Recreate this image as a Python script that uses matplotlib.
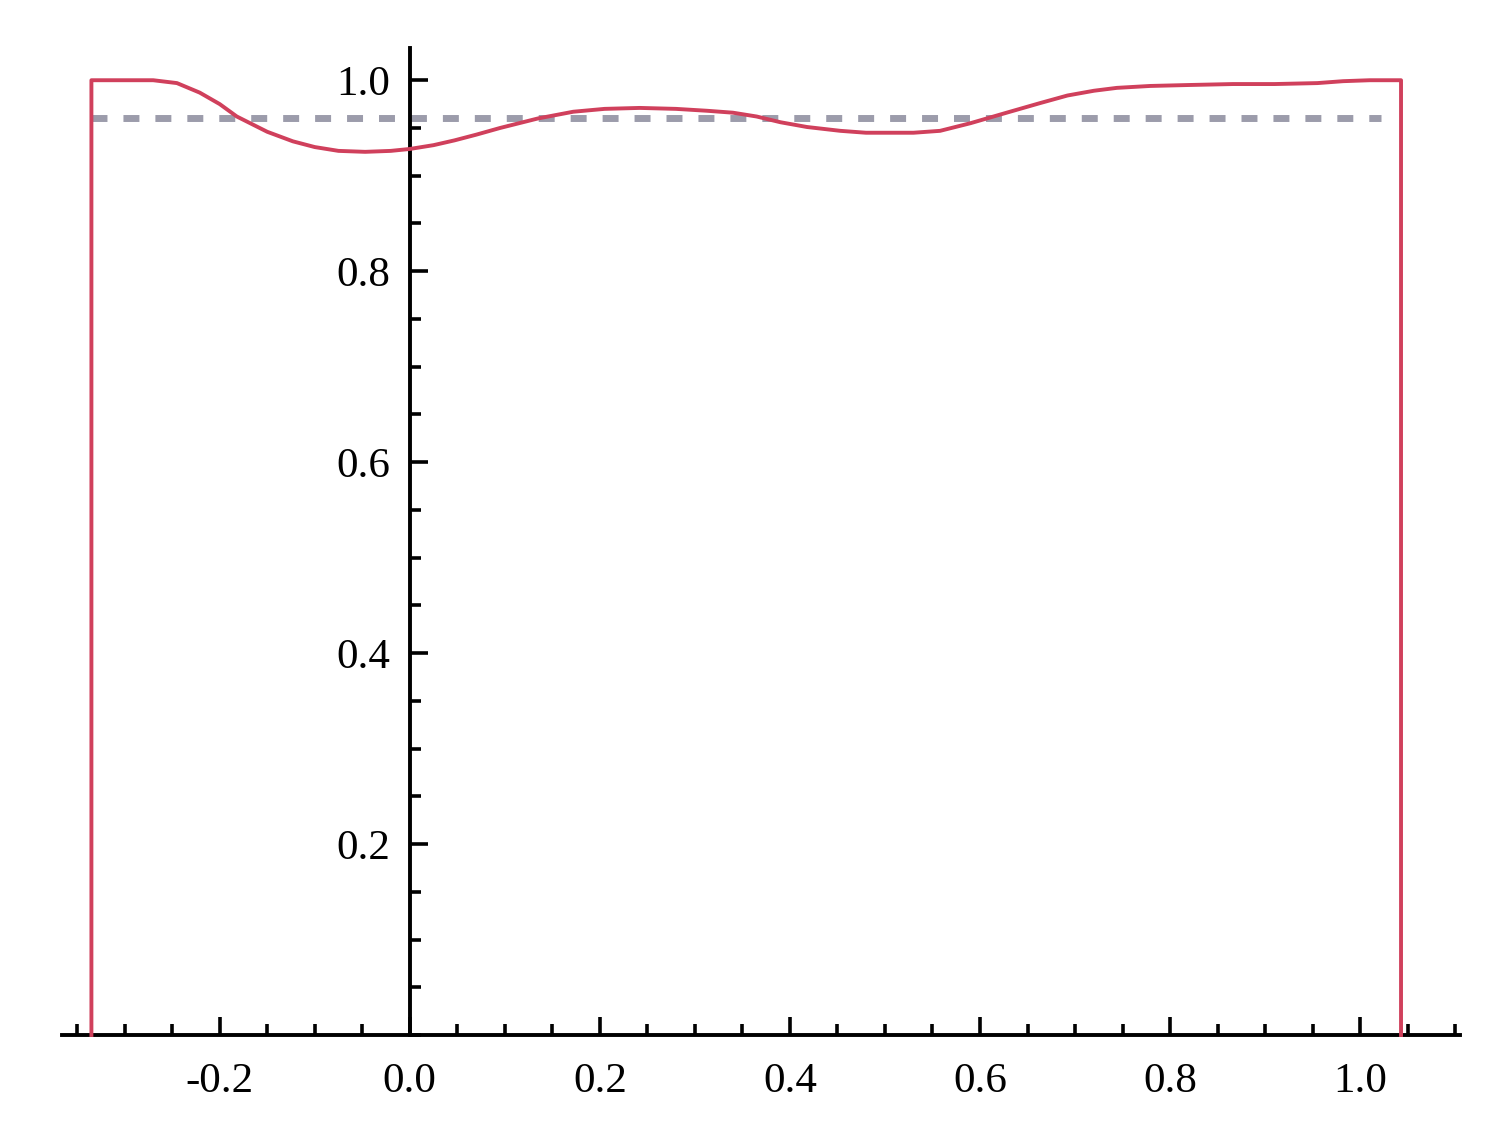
import numpy as np
import matplotlib
matplotlib.use("Agg")
import matplotlib.pyplot as plt
from matplotlib.ticker import MultipleLocator, FixedLocator, FormatStrFormatter

plt.rcParams["axes.unicode_minus"] = False
plt.rcParams["font.family"] = ["Liberation Serif", "DejaVu Serif"]

# red curve, including the two vertical drops to 0
curve_x = [-0.335, -0.335, -0.30, -0.270, -0.245, -0.221, -0.200, -0.182, -0.150,
           -0.123, -0.100, -0.075, -0.047, -0.020, 0.0, 0.025, 0.047, 0.070, 0.095,
           0.135, 0.172, 0.205, 0.242, 0.280, 0.313, 0.340, 0.365, 0.390, 0.418,
           0.453, 0.480, 0.505, 0.530, 0.558, 0.590, 0.628, 0.663, 0.692, 0.720,
           0.744, 0.779, 0.820, 0.866, 0.910, 0.955, 0.982, 1.010, 1.043, 1.043]
curve_y = [0.0, 1.0, 1.0, 1.0, 0.997, 0.987, 0.975, 0.962, 0.946,
           0.936, 0.930, 0.926, 0.925, 0.926, 0.928, 0.932, 0.937, 0.943, 0.950,
           0.960, 0.967, 0.970, 0.971, 0.970, 0.968, 0.966, 0.962, 0.956, 0.951,
           0.947, 0.945, 0.945, 0.945, 0.947, 0.955, 0.966, 0.976, 0.984, 0.989,
           0.992, 0.994, 0.995, 0.996, 0.996, 0.997, 0.999, 1.0, 1.0, 0.0]

# grey dashed reference level
dash_x = [-0.335, 1.022]
dash_level = 0.960

x_major = [-0.2, 0.0, 0.2, 0.4, 0.6, 0.8, 1.0]
y_major = [0.2, 0.4, 0.6, 0.8, 1.0]

fig = plt.figure(figsize=(15, 11.4), dpi=100)
ax = fig.add_axes([0.0413, 0.0921, 0.932, 0.866])

ax.plot(dash_x, [dash_level, dash_level], color="#9c9cab", linewidth=5,
        linestyle=(0, (2.3, 2.3)), solid_capstyle="butt", zorder=2)
ax.plot(curve_x, curve_y, color="#d0405c", linewidth=2.8, zorder=3, clip_on=False)

ax.set_xlim(-0.366, 1.105)
ax.set_ylim(0, 1.034)

for s in ["top", "right"]:
    ax.spines[s].set_visible(False)
ax.spines["left"].set_position(("data", 0))
ax.spines["bottom"].set_position(("data", 0))
ax.spines["left"].set_linewidth(2.8)
ax.spines["bottom"].set_linewidth(2.8)

ax.xaxis.set_major_locator(FixedLocator(x_major))
ax.xaxis.set_minor_locator(MultipleLocator(0.05))
ax.yaxis.set_major_locator(FixedLocator(y_major))
ax.yaxis.set_minor_locator(MultipleLocator(0.05))
ax.xaxis.set_major_formatter(FormatStrFormatter("%.1f"))
ax.yaxis.set_major_formatter(FormatStrFormatter("%.1f"))

ax.tick_params(axis="both", which="major", direction="in", length=13, width=2.6,
               labelsize=31)
ax.tick_params(axis="both", which="minor", direction="in", length=8, width=2.6)
ax.tick_params(axis="x", which="major", pad=20)
ax.tick_params(axis="y", which="major", pad=14)

fig.savefig("out.png", dpi=100)
plt.close(fig)
